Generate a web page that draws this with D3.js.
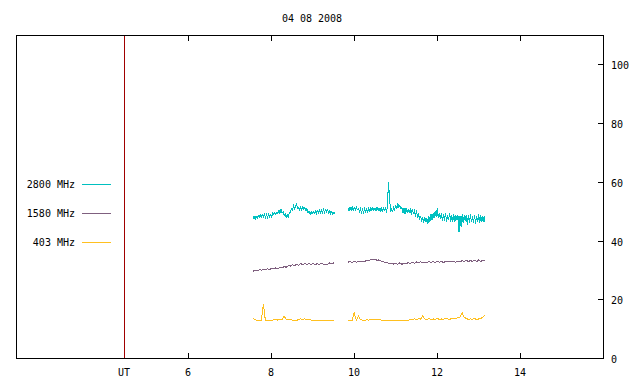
<!DOCTYPE html>
<html>
<head>
<meta charset="utf-8">
<script src="https://cdn.jsdelivr.net/npm/d3@7"></script>
<style>
  body { margin: 0; background: #fff; }
  text { font-family: "DejaVu Sans Mono", monospace; font-size: 10px; fill: #000; }
</style>
</head>
<body>
<script>
// radio flux at 3 frequencies, 04 08 2008 (hours UT)
var title = "04 08 2008";
var xTicks = [6, 8, 10, 12, 14];
var yTicks = [0, 20, 40, 60, 80, 100];
var utMark = 4.46;

var freqs = ["2800 MHz", "1580 MHz", "403 MHz"];
var colors = ["#00c0c0", "#7f607f", "#ffc020"];

// segment starts (hours) and sample steps
var segStart = [7.566, 9.855];
var stepFine = 0.025;
var stepCoarse = 0.05;

var f2800a = [47.3,48.2,47.2,48.4,47.6,48.6,47.8,48.9,47.9,48.8,
  48.0,48.9,47.9,48.8,47.8,48.9,48.0,48.8,48.1,49.3,
  48.8,49.6,48.9,49.7,49.1,50.3,49.2,50.6,49.3,49.8,
  48.5,49.2,47.9,48.9,47.8,49.7,49.6,50.9,50.4,51.8,
  50.5,52.0,52.4,50.9,51.2,50.4,51.5,50.3,51.6,50.5,
  51.2,50.1,50.9,49.4,49.9,48.9,49.8,49.0,49.9,49.2,
  50.0,49.1,50.2,49.4,50.4,49.3,50.3,49.5,50.6,49.6,
  50.5,49.7,50.4,49.3,50.2,49.1,49.9,48.9,49.7,49.0];
var f2800b = [51.2,50.1,51.4,50.2,51.5,50.3,51.3,50.4,51.4,50.5,
  50.9,49.9,50.8,49.6,50.7,49.5,50.9,49.7,50.8,49.8,
  51.0,49.9,51.2,50.1,51.3,50.2,51.1,50.0,51.4,50.3,
  51.0,50.0,51.2,49.9,51.1,50.2,51.0,49.9,51.3,59.9,
  55.0,49.8,50.6,49.9,51.2,50.4,52.1,50.8,52.6,51.2,
  52.0,50.9,51.4,49.3,50.9,49.0,51.2,49.4,50.6,49.5,
  50.6,48.9,50.8,49.3,50.1,48.2,50.3,48.1,49.0,47.2,
  48.4,46.3,47.9,45.9,48.1,46.2,47.6,45.8,48.3,46.5,
  48.9,47.1,49.3,47.6,50.2,48.0,50.9,47.8,49.4,47.5,
  49.3,46.6,48.9,46.8,49.5,46.4,48.7,47.1,49.2,46.3,
  48.8,46.5,48.9,46.2,48.6,46.9,48.7,42.8,48.4,44.6,
  48.9,46.1,48.5,46.6,48.8,45.3,48.6,46.0,48.9,46.4,
  48.3,45.9,48.7,45.8,48.5,46.2,48.9,46.1,48.6,46.3,
  48.4,46.2,48.2];

var f1580a = [29.5,30.0,29.6,30.1,29.9,30.3,30.0,30.5,30.0,30.6,
  30.3,30.7,30.4,31.0,30.6,31.2,30.9,31.4,31.3,31.8,
  31.4,31.9,31.6,32.2,31.7,32.3,31.9,32.2,31.9,32.3,
  31.7,32.2,31.8,32.3,31.8,32.0,31.9,32.4,32.1,32.4];
var f1580b = [32.6,33.0,32.5,32.9,32.6,33.0,32.7,32.9,32.9,33.2,
  33.1,33.5,33.4,33.6,33.3,33.4,33.0,32.9,32.5,32.5,
  32.1,32.2,32.0,32.1,31.9,32.4,31.9,32.3,32.0,32.5,
  32.2,32.6,32.3,32.7,32.4,32.8,32.5,32.7,32.6,32.8,
  32.5,33.0,32.5,32.9,32.6,33.0,32.5,32.9,32.8,33.0,
  32.7,32.9,32.6,33.1,32.7,33.2,32.8,33.3,32.8,33.2,
  32.9,33.3,32.8,33.4,32.9,33.3,33.1];

var f403a = [13.4,13.1,12.7,12.6,12.8,18.4,12.6,12.7,12.9,12.8,
  13.0,13.1,12.9,13.2,13.1,14.3,13.2,13.0,13.1,12.9,
  12.8,12.7,13.2,13.3,13.2,13.3,13.1,13.2,12.9,12.8,
  12.7,12.9,12.6,12.8,12.7,12.9,12.6,12.8,12.7,12.9];
var f403b = [12.9,12.7,12.8,15.4,12.9,14.3,13.0,12.9,12.8,13.0,
  12.9,13.1,13.2,13.3,13.2,13.1,12.9,12.7,12.6,12.7,
  12.8,12.7,12.9,12.7,12.8,12.6,12.7,12.8,12.7,12.9,
  13.0,13.2,13.3,13.1,13.4,13.2,14.3,13.3,13.2,13.4,
  13.1,13.3,13.2,13.4,13.2,13.3,13.1,13.5,13.3,13.2,
  13.4,13.3,13.5,13.8,14.0,15.4,13.9,13.4,13.2,13.3,
  13.2,13.4,13.1,13.3,13.5,13.9,14.6];

var series = [
  {segs: [f2800a, f2800b], step: stepFine},
  {segs: [f1580a, f1580b], step: stepCoarse},
  {segs: [f403a, f403b], step: stepCoarse}
];

var W = 640, H = 384;
var pLeft = 16, pRight = 603, pTop = 35, pBottom = 358;

var svg = d3.select("body").append("svg")
  .attr("width", W).attr("height", H);

var x = d3.scaleLinear().domain([1.855, 16]).range([pLeft, pRight]);
var y = d3.scaleLinear().domain([0, 110]).range([pBottom, pTop]);

// title
svg.append("text")
  .attr("x", 312).attr("y", 22)
  .attr("text-anchor", "middle")
  .text(title);

// plot border
svg.append("rect")
  .attr("x", pLeft + 0.5).attr("y", pTop + 0.5)
  .attr("width", pRight - pLeft).attr("height", pBottom - pTop)
  .attr("fill", "none").attr("stroke", "#000").attr("stroke-width", 1);

// x ticks (bottom and top, inward)
var px = d => Math.round(x(d)) + 0.5;
xTicks.forEach(function(t) {
  svg.append("line")
    .attr("x1", px(t)).attr("x2", px(t))
    .attr("y1", pBottom).attr("y2", pBottom - 5)
    .attr("stroke", "#000");
  svg.append("line")
    .attr("x1", px(t)).attr("x2", px(t))
    .attr("y1", pTop + 1).attr("y2", pTop + 6)
    .attr("stroke", "#000");
  svg.append("text")
    .attr("x", x(t)).attr("y", 376)
    .attr("text-anchor", "middle")
    .text(t);
});

// UT marker
svg.append("line")
  .attr("x1", px(utMark)).attr("x2", px(utMark))
  .attr("y1", pTop + 1).attr("y2", pBottom)
  .attr("stroke", "#a00000");
svg.append("text")
  .attr("x", x(utMark)).attr("y", 376)
  .attr("text-anchor", "middle")
  .text("UT");

// right y axis
yTicks.forEach(function(t) {
  var yy = Math.round(y(t)) + 0.5;
  svg.append("line")
    .attr("x1", pRight + 0.5).attr("x2", pRight - 5)
    .attr("y1", yy).attr("y2", yy)
    .attr("stroke", "#000");
  svg.append("text")
    .attr("x", 611).attr("y", yy + 4)
    .text(t);
});

// data
var line = d3.line().x(d => x(d[0])).y(d => y(d[1]));
series.forEach(function(s, k) {
  s.segs.forEach(function(vals, j) {
    var pts = vals.map((v, i) => [segStart[j] + i * s.step, v]);
    svg.append("path")
      .datum(pts)
      .attr("d", line)
      .attr("fill", "none")
      .attr("stroke", colors[k])
      .attr("stroke-width", 1)
      .attr("shape-rendering", "crispEdges");
  });
});

// legend
freqs.forEach(function(f, k) {
  var ly = 184 + k * 29;
  svg.append("text")
    .attr("x", 75).attr("y", ly + 4)
    .attr("text-anchor", "end")
    .text(f);
  svg.append("line")
    .attr("x1", 82).attr("x2", 111)
    .attr("y1", ly + 0.5).attr("y2", ly + 0.5)
    .attr("stroke", colors[k]);
});
</script>
</body>
</html>
